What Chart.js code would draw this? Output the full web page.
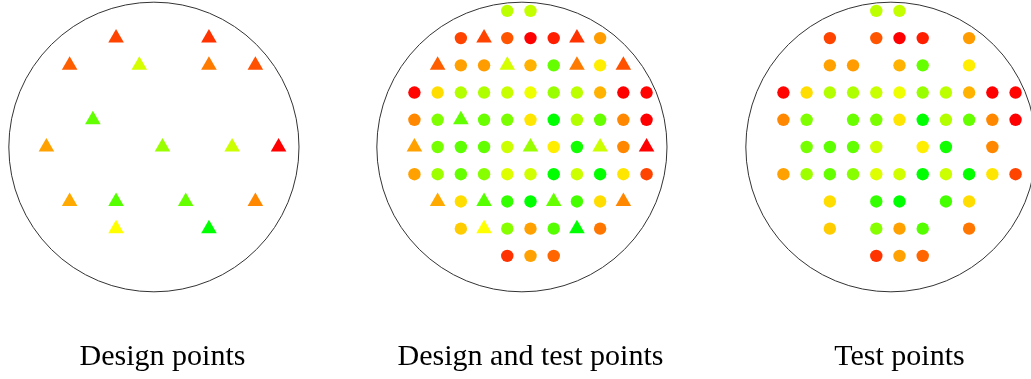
<!DOCTYPE html>
<html>
<head>
<meta charset="utf-8">
<script src="https://cdn.jsdelivr.net/npm/chart.js@4"></script>
<style>
  html, body { margin: 0; padding: 0; background: #fff; overflow: hidden; }
  .panel { position: absolute; top: 0; }
</style>
</head>
<body>
<div class="panel" style="left:0px"><canvas id="design" width="325" height="379"></canvas></div>
<div class="panel" style="left:368px"><canvas id="both" width="325" height="379"></canvas></div>
<div class="panel" style="left:737px"><canvas id="test" width="325" height="379"></canvas></div>
<script>
const panelTitles = ['Design points', 'Design and test points', 'Test points'];

// design points (triangles): grid position and response (0 = red, 1 = green)
const designX = [-2, 2, -4, -1, 2, 4, -3, -5, 0, 3, 5, -4, -2, 1, 4, -2, 2];
const designY = [4, 4, 3, 3, 3, 3, 1, 0, 0, 0, 0, -2, -2, -2, -2, -3, -3];
const designValue = [0.13, 0.10, 0.18, 0.58, 0.24, 0.16, 0.81, 0.32, 0.70, 0.60, 0.00, 0.33, 0.83, 0.80, 0.27, 0.50, 1.00];

// test points (circles)
const testX = [
  -1, 0,
  -3, -1, 0, 1, 3,
  -3, -2, 0, 1, 3,
  -5, -4, -3, -2, -1, 0, 1, 2, 3, 4, 5,
  -5, -4, -2, -1, 0, 1, 2, 3, 4, 5,
  -4, -3, -2, -1, 1, 2, 4,
  -5, -4, -3, -2, -1, 0, 1, 2, 3, 4, 5,
  -3, -1, 0, 2, 3,
  -3, -1, 0, 1, 3,
  -1, 0, 1
];
const testY = [
  5, 5,
  4, 4, 4, 4, 4,
  3, 3, 3, 3, 3,
  2, 2, 2, 2, 2, 2, 2, 2, 2, 2, 2,
  1, 1, 1, 1, 1, 1, 1, 1, 1, 1,
  0, 0, 0, 0, 0, 0, 0,
  -1, -1, -1, -1, -1, -1, -1, -1, -1, -1, -1,
  -2, -2, -2, -2, -2,
  -3, -3, -3, -3, -3,
  -4, -4, -4
];
const testValue = [
  0.63, 0.62,
  0.13, 0.17, 0.00, 0.06, 0.31,
  0.32, 0.31, 0.35, 0.80, 0.47,
  0.01, 0.43, 0.65, 0.66, 0.61, 0.53, 0.70, 0.63, 0.35, 0.00, 0.01,
  0.27, 0.75, 0.79, 0.76, 0.45, 1.00, 0.65, 0.80, 0.27, 0.00,
  0.77, 0.82, 0.81, 0.60, 0.47, 0.97, 0.27,
  0.32, 0.69, 0.80, 0.73, 0.57, 0.59, 1.00, 0.60, 0.99, 0.45, 0.13,
  0.43, 0.90, 1.00, 0.87, 0.43,
  0.40, 0.73, 0.32, 0.83, 0.23,
  0.10, 0.32, 0.20
];

// wafer outline in data units
const waferCenterX = -0.37;
const waferCenterY = 0;
const waferRadiusX = 6.25;
const waferRadiusY = 5.32;

function toPoints(xs, ys) {
  return xs.map((x, i) => ({ x: x, y: ys[i] }));
}

function valueColor(v) {
  return 'hsl(' + Math.round(v * 120) + ', 100%, 50%)';
}

function designSet() {
  return {
    data: toPoints(designX, designY),
    pointStyle: 'triangle',
    pointRadius: 9,
    borderWidth: 0,
    backgroundColor: designValue.map(valueColor),
  };
}

function testSet() {
  return {
    data: toPoints(testX, testY),
    pointStyle: 'circle',
    pointRadius: 6.2,
    borderWidth: 0,
    backgroundColor: testValue.map(valueColor),
  };
}

const waferOutline = {
  id: 'waferOutline',
  afterDatasetsDraw(chart) {
    const { ctx, scales: { x, y } } = chart;
    const cx = x.getPixelForValue(waferCenterX);
    const cy = y.getPixelForValue(waferCenterY);
    const rx = Math.abs(x.getPixelForValue(waferCenterX + waferRadiusX) - cx);
    const ry = Math.abs(y.getPixelForValue(waferCenterY + waferRadiusY) - cy);
    ctx.save();
    ctx.beginPath();
    ctx.ellipse(cx, cy, rx, ry, 0, 0, Math.PI * 2);
    ctx.strokeStyle = '#333';
    ctx.lineWidth = 1;
    ctx.stroke();
    ctx.restore();
  },
};

function makePanel(id, title, datasets) {
  new Chart(document.getElementById(id), {
    type: 'scatter',
    data: { datasets: datasets },
    options: {
      responsive: false,
      animation: false,
      layout: { padding: 0, autoPadding: false },
      scales: {
        x: { display: false, min: -7, max: 7 },
        y: { display: false, min: -5.4, max: 5.4 },
      },
      plugins: {
        legend: { display: false },
        tooltip: { enabled: false },
        title: {
          display: true,
          position: 'bottom',
          text: title,
          color: '#000',
          font: { family: 'Liberation Serif', size: 30, weight: 'normal' },
          padding: { top: 45, bottom: 4 },
        },
      },
    },
    plugins: [waferOutline],
  });
}

makePanel('design', panelTitles[0], [designSet()]);
makePanel('both', panelTitles[1], [testSet(), designSet()]);
makePanel('test', panelTitles[2], [testSet()]);
</script>
</body>
</html>
